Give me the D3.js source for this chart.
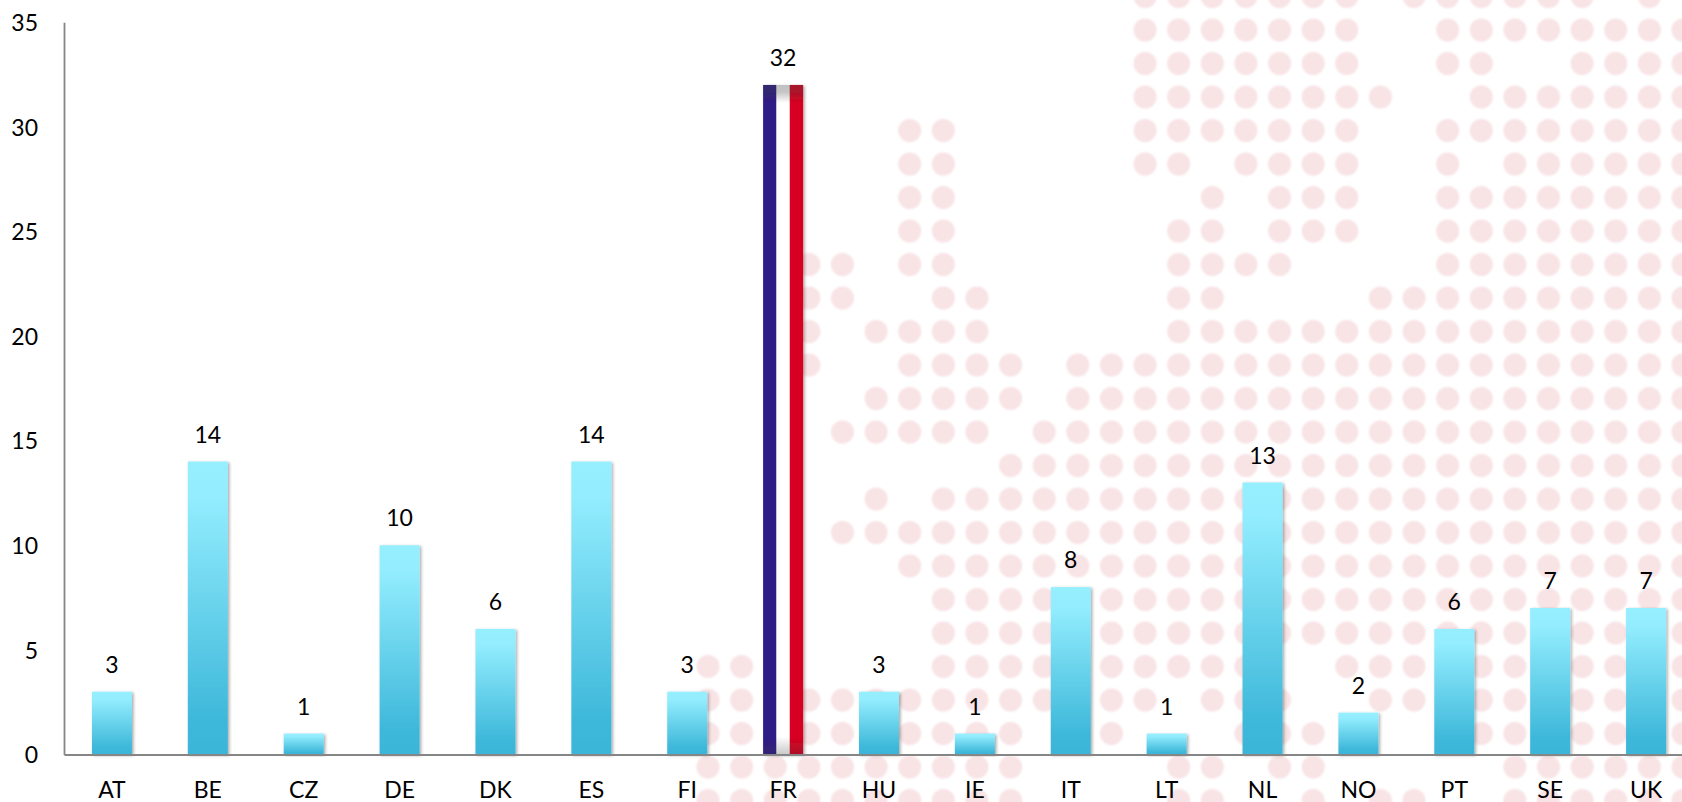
<!doctype html>
<html>
<head>
<title>Bars by country</title>
<meta charset="utf-8"/>
<script src="https://cdnjs.cloudflare.com/ajax/libs/d3/7.8.5/d3.min.js"></script>
<style>
	body { margin: 0; background: #fff; }
	svg { display: block; }
	text { font-family: Lato, "Open Sans", sans-serif; font-size: 23px; fill: #000; }
</style>
</head>
<body>
<svg width="1682" height="802"></svg>
<script>
var categories = ["AT","BE","CZ","DE","DK","ES","FI","FR","HU","IE","IT","LT","NL","NO","PT","SE","UK"]
var values = [3,14,1,10,6,14,3,32,3,1,8,1,13,2,6,7,7]
var yTicks = [0,5,10,15,20,25,30,35]
var flagCategory = "FR"
var flagColors = ["#2e1a87","#ffffff","#d80021"]

// the faded dot map behind the chart, one string per row, x = dot
var dotRows = [
	".............xxxxxxx.xxxxxx.x.",
	".............xxxxxxx..xxxxxxxx",
	".............xxxxxxx..xx..xxxx",
	".............xxxxxxxx..xxxxxxx",
	"......xx.....xxxxxxx..xxxxxxxx",
	"......xx.....xx.xxxx..x.xxxxxx",
	"......xx.......x.xxx..xxxxxxxx",
	"......xx......xx.xxx..xxxxxxxx",
	"...xx.xx......xxxx....xxxxxxxx",
	"...xx..xx.....xx....xxxxxxxxxx",
	"...x.xxxx.....xxxxxxxxxxxxxxxx",
	"...x..xxxx.xxxxxxxxxxxxxxxxxxx",
	".....xxxxx.xxxxxxxxxxxxxxxxxxx",
	"....xxxxx.xxxxxxxxxxxxxxxxxxxx",
	".........xxxxxxxxxxxxxxxxxxxxx",
	".....x.xxxxxxxxxxxxxxxxxxxxxxx",
	"....xxxxxxxxxxxxxxxxxxxxxxxxxx",
	"......xxxxxxxxxxxxxxxxxxxxxxxx",
	".......xxxxxxxxxxxxxxxxxxxxxxx",
	".......xxxxxxxxxxxxxxxxxxxxxxx",
	"xx.....xxxxxxxxxx..xxxxxxxxxxx",
	"xx.xxxxxxxx.xx.xxx..xx.xxxxxxx",
	"xx.xxxxxxx..x...xxx....xxxxxxx",
	"xxxxxxxxxx....xx.xx.....xxxxxx",
	"xxxxxxxxxx....xx..x.xx..xxxxxx"
]

var svg = d3.select("svg")
var defs = svg.append("defs")

var x = d3.scaleBand().domain(categories).range([64,1694]).paddingInner(.583).paddingOuter(.2915)
var y = d3.scaleLinear().domain([0,35]).range([754.5,22.2])
var dotX = d3.scaleLinear().domain([0,29]).range([708,1683])
var dotY = d3.scaleLinear().domain([0,24]).range([-3.5,800.5])

var barFill = defs.append("linearGradient").attr("id","barFill")
	.attr("x1",0).attr("y1",0).attr("x2",0).attr("y2",1)
barFill.append("stop").attr("offset","0").attr("stop-color","#95efff")
barFill.append("stop").attr("offset",".12").attr("stop-color","#93edfe")
barFill.append("stop").attr("offset",".88").attr("stop-color","#3eb8da")
barFill.append("stop").attr("offset","1").attr("stop-color","#3ab5d8")

var fadeTop = defs.append("linearGradient").attr("id","fadeTop")
	.attr("x1",0).attr("y1",0).attr("x2",0).attr("y2",1)
fadeTop.append("stop").attr("offset","0").attr("stop-color","#404040").attr("stop-opacity",.33)
fadeTop.append("stop").attr("offset",".4").attr("stop-color","#404040").attr("stop-opacity",.3)
fadeTop.append("stop").attr("offset","1").attr("stop-color","#404040").attr("stop-opacity",0)

var fadeBottom = defs.append("linearGradient").attr("id","fadeBottom")
	.attr("x1",0).attr("y1",1).attr("x2",0).attr("y2",0)
fadeBottom.append("stop").attr("offset","0").attr("stop-color","#404040").attr("stop-opacity",.28)
fadeBottom.append("stop").attr("offset","1").attr("stop-color","#404040").attr("stop-opacity",0)

var shadow = defs.append("filter").attr("id","barShadow")
	.attr("x","-20%").attr("y","-5%").attr("width","145%").attr("height","115%")
shadow.append("feDropShadow").attr("dx",1.5).attr("dy",1).attr("stdDeviation",1.5)
	.attr("flood-color","#000").attr("flood-opacity",.35)

defs.append("filter").attr("id","dotBlur")
	.append("feGaussianBlur").attr("stdDeviation",1.1)

// background dots
var dots = []
dotRows.forEach(function(row,r) {
	row.split("").forEach(function(c,i) {
		if (c == "x") dots.push({c:i, r:r})
	})
})

svg.append("g").attr("filter","url(#dotBlur)")
	.selectAll("circle")
	.data(dots)
	.enter()
	.append("circle")
	.attr("cx", d => dotX(d.c))
	.attr("cy", d => dotY(d.r))
	.attr("r", 11.5)
	.style("fill", "#f8e3e5")

var data = categories.map((d,i) => ({name:d, value:values[i]}))

// ordinary bars
svg.append("g")
	.selectAll("rect")
	.data(data.filter(d => d.name != flagCategory))
	.enter()
	.append("rect")
	.attr("x", d => x(d.name))
	.attr("y", d => y(d.value))
	.attr("width", x.bandwidth())
	.attr("height", d => y(0) - y(d.value))
	.attr("fill", "url(#barFill)")
	.attr("filter", "url(#barShadow)")

// the flag bar
var flagValue = values[categories.indexOf(flagCategory)]
var stripe = d3.scaleBand().domain(flagColors).range([x(flagCategory), x(flagCategory) + x.bandwidth()])
var flag = svg.append("g").attr("filter","url(#barShadow)")

flag.selectAll("rect.stripe")
	.data(flagColors)
	.enter()
	.append("rect")
	.attr("class","stripe")
	.attr("x", d => stripe(d))
	.attr("y", y(flagValue))
	.attr("width", stripe.bandwidth())
	.attr("height", y(0) - y(flagValue))
	.attr("fill", d => d)

flag.append("rect")
	.attr("x", x(flagCategory))
	.attr("y", y(flagValue))
	.attr("width", x.bandwidth())
	.attr("height", 18)
	.attr("fill", "url(#fadeTop)")

flag.append("rect")
	.attr("x", x(flagCategory))
	.attr("y", y(0) - 18)
	.attr("width", x.bandwidth())
	.attr("height", 18)
	.attr("fill", "url(#fadeBottom)")

// axes
var xAxis = svg.append("g")
	.attr("transform", "translate(0," + y(0) + ")")
	.call(d3.axisBottom(x).tickSize(0).tickSizeOuter(0))

var yAxis = svg.append("g")
	.attr("transform", "translate(64,0)")
	.call(d3.axisLeft(y).tickValues(yTicks).tickSize(0).tickSizeOuter(0).tickPadding(26))

xAxis.selectAll("text").attr("y", 43.5).attr("dy", 0)
yAxis.selectAll("text").attr("dy", ".36em")

svg.selectAll(".domain").attr("stroke","#868686").attr("stroke-width",1.8)
xAxis.attr("font-family", null).attr("font-size", null)
yAxis.attr("font-family", null).attr("font-size", null)

// value labels
svg.append("g")
	.selectAll("text")
	.data(data)
	.enter()
	.append("text")
	.attr("x", d => x(d.name) + x.bandwidth() / 2)
	.attr("y", d => y(d.value) - 19)
	.attr("text-anchor", "middle")
	.text(d => d.value)
</script>
</body>
</html>
